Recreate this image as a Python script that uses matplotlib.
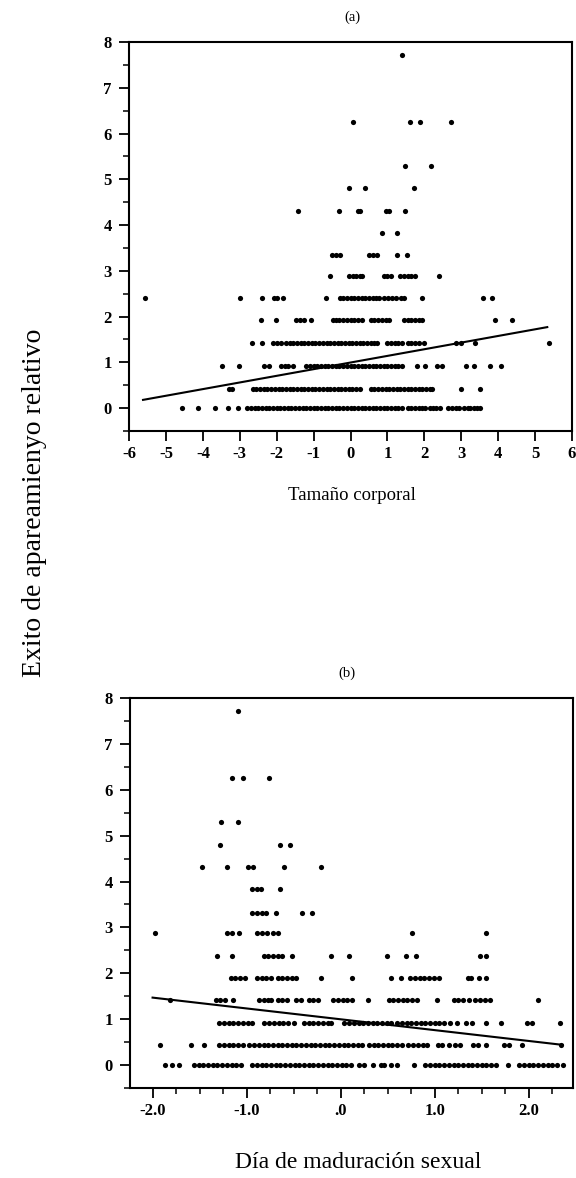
import matplotlib.pyplot as plt
from matplotlib.ticker import MultipleLocator

plt.rcParams['font.family'] = ['Liberation Serif', 'DejaVu Serif']
plt.rcParams['axes.unicode_minus'] = False

# ==========================================
# (a) Tamaño corporal vs. éxito de apareamiento
# ==========================================
niveles_a = [0.0, 0.42, 0.93, 1.42, 1.92, 2.40, 2.88, 3.35, 3.82, 4.31, 4.80, 5.30, 6.25, 7.72]

tam_0 = [-4.56, -4.12, -3.68, -3.31, -3.04, -2.8, -2.7, -2.6, -2.5, -2.4, -2.3, -2.2, -2.1, -2.0,
         -1.9, -1.8, -1.7, -1.6, -1.5, -1.4, -1.3, -1.2, -1.1, -1.0, -0.9, -0.8, -0.7, -0.6, -0.5,
         -0.4, -0.3, -0.2, -0.1, 0.0, 0.1, 0.2, 0.3, 0.4, 0.5, 0.6, 0.7, 0.8, 0.9, 1.0, 1.1, 1.2,
         1.3, 1.4, 1.55, 1.65, 1.75, 1.85, 1.95, 2.03, 2.14, 2.24, 2.32, 2.42, 2.64, 2.74, 2.86,
         2.93, 3.08, 3.17, 3.25, 3.35, 3.44, 3.52]
tam_1 = [-3.29, -3.21, -2.65, -2.55, -2.45, -2.35, -2.25, -2.15, -2.05, -1.95, -1.85, -1.75, -1.65,
         -1.55, -1.45, -1.35, -1.25, -1.15, -1.05, -0.95, -0.85, -0.75, -0.65, -0.55, -0.45, -0.35,
         -0.25, -0.15, -0.05, 0.05, 0.15, 0.25, 0.55, 0.65, 0.75, 0.85, 0.95, 1.05, 1.15, 1.25,
         1.35, 1.45, 1.55, 1.65, 1.75, 1.85, 1.95, 2.05, 2.15, 2.2, 2.98, 3.51]
tam_2 = [-3.49, -3.02, -2.34, -2.22, -1.88, -1.78, -1.68, -1.55, -1.2, -1.1, -1.0, -0.9, -0.8,
         -0.7, -0.6, -0.5, -0.4, -0.3, -0.2, -0.1, 0.0, 0.1, 0.2, 0.3, 0.4, 0.5, 0.6, 0.7, 0.8,
         0.9, 1.0, 1.1, 1.2, 1.3, 1.4, 1.8, 2.03, 2.35, 2.48, 3.12, 3.34, 3.77, 4.08]
tam_3 = [-2.66, -2.4, -2.1, -2.0, -1.88, -1.75, -1.65, -1.55, -1.45, -1.35, -1.25, -1.15, -1.05,
         -0.95, -0.85, -0.75, -0.65, -0.55, -0.45, -0.35, -0.25, -0.15, -0.05, 0.05, 0.15, 0.25,
         0.35, 0.45, 0.55, 0.65, 0.72, 1.0, 1.1, 1.2, 1.3, 1.4, 1.55, 1.65, 1.75, 1.85, 1.98,
         2.86, 2.98, 3.38, 5.38]
tam_4 = [-2.42, -2.02, -1.47, -1.36, -1.25, -1.07, -0.48, -0.4, -0.3, -0.2, -0.1, 0.0, 0.1, 0.2,
         0.3, 0.55, 0.65, 0.75, 0.85, 0.95, 1.04, 1.45, 1.55, 1.65, 1.75, 1.85, 1.94, 3.91, 4.37]
tam_5 = [-5.58, -2.99, -2.4, -2.08, -1.98, -1.82, -0.66, -0.28, -0.2, -0.1, 0.0, 0.1, 0.2, 0.3,
         0.4, 0.5, 0.6, 0.7, 0.76, 0.92, 1.02, 1.12, 1.22, 1.38, 1.44, 1.94, 3.6, 3.82]
tam_6 = [-0.55, -0.03, 0.06, 0.16, 0.26, 0.31, 0.9, 1.0, 1.1, 1.35, 1.45, 1.55, 1.65, 1.76, 2.41]
tam_7 = [-0.5, -0.4, -0.28, 0.5, 0.6, 0.72, 1.26, 1.53]
tam_8 = [0.85, 1.26]
tam_9 = [-1.41, -0.3, 0.2, 0.26, 0.95, 1.05, 1.47]
tam_10 = [-0.05, 0.38, 1.71]
tam_11 = [1.47, 2.18]
tam_12 = [0.07, 1.62, 1.88, 2.71]
tam_13 = [1.40]
filas_a = [tam_0, tam_1, tam_2, tam_3, tam_4, tam_5, tam_6, tam_7, tam_8, tam_9,
           tam_10, tam_11, tam_12, tam_13]

# recta de regresión (extremos leídos)
recta_a_x = [-5.62, 5.33]
recta_a_y = [0.18, 1.77]

# ==========================================
# (b) Día de maduración sexual vs. éxito
# ==========================================
niveles_b = [0.0, 0.43, 0.91, 1.42, 1.90, 2.37, 2.88, 3.32, 3.83, 4.31, 4.80, 5.30, 6.25, 7.72]

dia_0 = [-1.87, -1.79, -1.72, -1.56, -1.51, -1.46, -1.41, -1.36, -1.31, -1.26, -1.21, -1.16,
         -1.11, -1.06, -0.94, -0.89, -0.84, -0.79, -0.74, -0.69, -0.64, -0.59, -0.54, -0.49,
         -0.44, -0.39, -0.34, -0.29, -0.24, -0.19, -0.14, -0.09, -0.04, 0.01, 0.06, 0.11, 0.2,
         0.25, 0.34, 0.43, 0.46, 0.54, 0.6, 0.78, 0.9, 0.95, 1.0, 1.05, 1.1, 1.15, 1.2, 1.25,
         1.3, 1.35, 1.4, 1.45, 1.5, 1.55, 1.6, 1.65, 1.78, 1.9, 1.95, 2.0, 2.05, 2.1, 2.15, 2.2,
         2.25, 2.3, 2.36]
dia_1 = [-1.92, -1.59, -1.45, -1.29, -1.24, -1.19, -1.14, -1.09, -1.04, -0.97, -0.92, -0.87,
         -0.82, -0.77, -0.72, -0.67, -0.62, -0.57, -0.52, -0.47, -0.42, -0.37, -0.32, -0.27,
         -0.22, -0.17, -0.12, -0.07, -0.02, 0.03, 0.08, 0.13, 0.18, 0.23, 0.3, 0.35, 0.4, 0.45,
         0.5, 0.55, 0.6, 0.65, 0.72, 0.77, 0.82, 0.87, 0.92, 1.03, 1.08, 1.15, 1.22, 1.27, 1.41,
         1.46, 1.55, 1.74, 1.79, 1.93, 2.34]
dia_2 = [-1.29, -1.24, -1.19, -1.14, -1.09, -1.04, -0.99, -0.94, -0.81, -0.76, -0.71, -0.66,
         -0.61, -0.56, -0.5, -0.39, -0.34, -0.29, -0.24, -0.19, -0.14, -0.1, 0.04, 0.09, 0.14,
         0.19, 0.24, 0.29, 0.34, 0.39, 0.44, 0.49, 0.54, 0.6, 0.65, 0.7, 0.75, 0.8, 0.85, 0.9,
         0.95, 1.0, 1.05, 1.1, 1.16, 1.24, 1.33, 1.4, 1.55, 1.7, 1.98, 2.03, 2.33]
dia_3 = [-1.82, -1.33, -1.28, -1.23, -1.15, -0.87, -0.82, -0.77, -0.74, -0.67, -0.62, -0.57,
         -0.48, -0.42, -0.34, -0.29, -0.24, -0.08, -0.03, 0.02, 0.07, 0.12, 0.29, 0.51, 0.56,
         0.61, 0.66, 0.71, 0.76, 0.81, 1.02, 1.2, 1.25, 1.3, 1.36, 1.43, 1.48, 1.53, 1.59, 2.1]
dia_4 = [-1.17, -1.12, -1.07, -1.02, -0.89, -0.84, -0.79, -0.74, -0.67, -0.62, -0.57, -0.52,
         -0.47, -0.21, 0.12, 0.53, 0.64, 0.74, 0.79, 0.84, 0.89, 0.94, 0.99, 1.05, 1.35, 1.39,
         1.47, 1.54]
dia_5 = [-1.32, -1.16, -0.82, -0.77, -0.72, -0.67, -0.62, -0.52, -0.1, 0.09, 0.49, 0.69, 0.8,
         1.48, 1.55]
dia_6 = [-1.97, -1.21, -1.16, -1.08, -0.89, -0.84, -0.78, -0.72, -0.67, 0.76, 1.55]
dia_7 = [-0.94, -0.89, -0.84, -0.79, -0.69, -0.41, -0.3]
dia_8 = [-0.94, -0.89, -0.85, -0.65]
dia_9 = [-1.47, -1.21, -0.99, -0.93, -0.6, -0.21]
dia_10 = [-1.28, -0.65, -0.54]
dia_11 = [-1.27, -1.09]
dia_12 = [-1.16, -1.04, -0.76]
dia_13 = [-1.09]
filas_b = [dia_0, dia_1, dia_2, dia_3, dia_4, dia_5, dia_6, dia_7, dia_8, dia_9,
           dia_10, dia_11, dia_12, dia_13]

recta_b_x = [-2.0, 2.36]
recta_b_y = [1.47, 0.44]

etiquetas_b = ['-2.0', '-1.0', '.0', '1.0', '2.0']

# ==========================================
# Figura
# ==========================================
W, H = 576, 1178
fig = plt.figure(figsize=(W / 100, H / 100), dpi=100)

ax1 = fig.add_axes([129 / W, 1 - 431 / H, 443 / W, 389 / H])
ax2 = fig.add_axes([130 / W, 1 - 1088 / H, 443 / W, 390 / H])

for nivel, xs in zip(niveles_a, filas_a):
    ax1.scatter(xs, [nivel] * len(xs), s=14, c='black', linewidths=0)
ax1.plot(recta_a_x, recta_a_y, color='black', lw=1.5)

for nivel, xs in zip(niveles_b, filas_b):
    ax2.scatter(xs, [nivel] * len(xs), s=14, c='black', linewidths=0)
ax2.plot(recta_b_x, recta_b_y, color='black', lw=1.5)

# Ejes
ax1.set_xlim(-6, 6)
ax1.set_xticks(range(-6, 7))
ax2.set_xlim(-2.24, 2.47)
ax2.set_xticks([-2, -1, 0, 1, 2])
ax2.set_xticklabels(etiquetas_b)
ax2.xaxis.set_minor_locator(MultipleLocator(0.25))

for ax in (ax1, ax2):
    ax.set_ylim(-0.5, 8)
    ax.set_yticks(range(0, 9))
    ax.yaxis.set_minor_locator(MultipleLocator(0.5))
    ax.tick_params(which='major', direction='out', length=7.5, width=1.3,
                   labelsize=12, pad=3)
    ax.tick_params(which='minor', direction='out', length=4, width=1.1)
    ax.tick_params(axis='y', pad=5)
    for lab in ax.get_xticklabels() + ax.get_yticklabels():
        lab.set_fontweight('bold')
    for sp in ax.spines.values():
        sp.set_linewidth(1.5)

# Textos
fig.text(352 / W, 1 - 17 / H, '(a)', ha='center', va='center', fontsize=10.5)
fig.text(347 / W, 1 - 673 / H, '(b)', ha='center', va='center', fontsize=10.5)
fig.text(352 / W, 1 - 496 / H, 'Tamaño corporal', ha='center', va='center', fontsize=13.5)
fig.text(358 / W, 1 - 1162 / H, 'Día de maduración sexual', ha='center', va='center', fontsize=17)
fig.text(35 / W, 1 - 503 / H, 'Exito de apareamienyo relativo', ha='center', va='center',
         rotation=90, fontsize=20)

fig.savefig('out.png', dpi=100)
